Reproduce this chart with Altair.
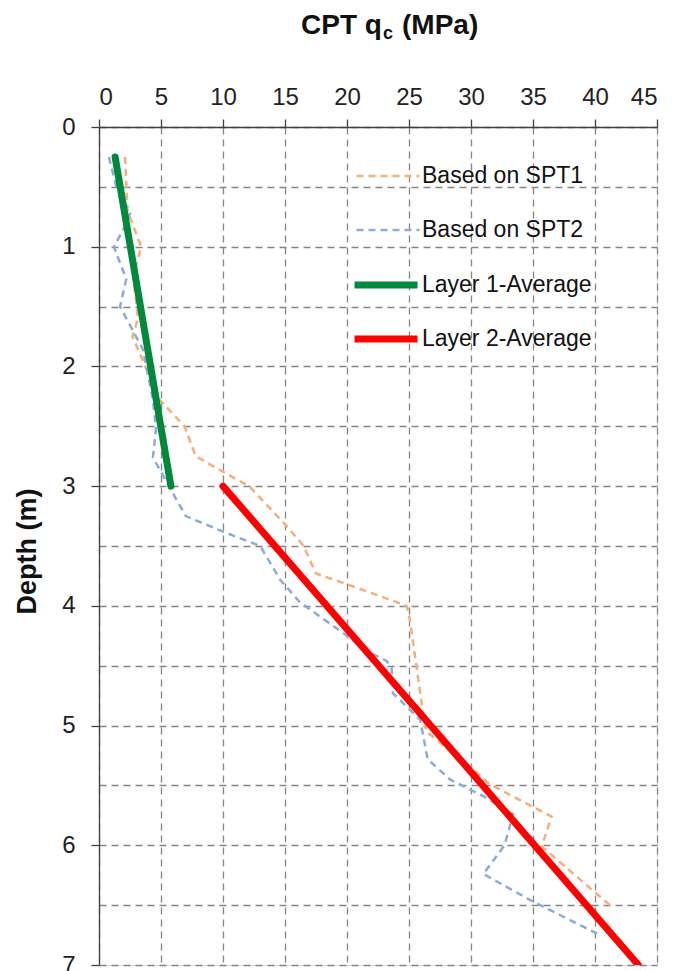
import altair as alt
import pandas as pd

# ---- data ----
spt1_q = [2.1, 2.3, 3.4, 2.75, 3.15, 2.7, 4.9, 6.9, 7.8, 10.0, 12.1, 15.1, 16.5, 17.5, 20.0,
          22.7, 24.8, 25.0, 26.1, 26.4, 29.9, 31.5, 36.5, 35.7, 41.2]
spt1_d = [0.25, 0.7, 1.0, 1.25, 1.6, 1.75, 2.28, 2.5, 2.75, 2.88, 3.0, 3.33, 3.5, 3.73, 3.82,
          3.92, 4.0, 4.07, 4.87, 5.05, 5.34, 5.49, 5.76, 6.01, 6.5]

spt2_q = [0.8, 1.4, 2.5, 1.95, 1.2, 2.2, 1.7, 3.55, 4.35, 4.6, 4.35, 5.8, 7.0, 10.0, 13.0,
          14.6, 16.2, 20.0, 21.8, 23.2, 23.6, 23.7, 25.9, 26.1, 26.5, 28.3, 31.0, 33.4, 32.7,
          31.0, 35.0, 40.4]
spt2_d = [0.25, 0.5, 0.72, 0.86, 1.0, 1.27, 1.5, 1.86, 2.28, 2.52, 2.76, 3.03, 3.25, 3.38, 3.5,
          3.78, 3.97, 4.25, 4.39, 4.46, 4.52, 4.73, 4.95, 5.06, 5.28, 5.45, 5.59, 5.74, 6.0,
          6.24, 6.47, 6.75]

layer1_q = [1.3, 5.8]
layer1_d = [0.25, 3.0]
layer2_q = [10.0, 43.5]
layer2_d = [3.0, 7.0]

series_names = ["Based on SPT1", "Based on SPT2", "Layer 1-Average", "Layer 2-Average"]
series_colors = ["#F8AD7A", "#8EA9DB", "#00893D", "#FF0000"]

x_ticks = [0, 5, 10, 15, 20, 25, 30, 35, 40, 45]
y_ticks = [0, 0.5, 1, 1.5, 2, 2.5, 3, 3.5, 4, 4.5, 5, 5.5, 6, 6.5, 7]

FONT = "Liberation Sans"


def frame(qs, ds, name):
    return pd.DataFrame({"q": qs, "depth": ds, "idx": list(range(len(qs))), "series": name})


xenc = alt.X("q:Q", scale=alt.Scale(domain=[0, 45], nice=False, zero=False),
             axis=alt.Axis(orient="top", values=x_ticks, title=None, labelFontSize=24,
                           labelFont=FONT, labelColor="#222222", labelPadding=10,
                           tickSize=8, tickColor="#404040", tickWidth=1.3,
                           domainColor="#404040", domainWidth=1.3,
                           grid=True, gridColor="#858585", gridDash=[7, 5], gridWidth=1.3))
yenc = alt.Y("depth:Q", scale=alt.Scale(domain=[0, 7], reverse=True, nice=False, zero=False),
             axis=alt.Axis(orient="left", values=y_ticks,
                           labelExpr="datum.value % 1 === 0 ? format(datum.value, 'd') : ''",
                           labelFontSize=24, labelFont=FONT, labelColor="#222222",
                           labelPadding=16, tickSize=8, tickColor="#404040", tickWidth=1.3,
                           tickOpacity={"condition": {"test": "datum.value % 1 === 0", "value": 1},
                                        "value": 0},
                           domainColor="#404040", domainWidth=1.3,
                           grid=True, gridColor="#858585", gridDash=[7, 5], gridWidth=1.3,
                           title="Depth (m)", titleFont=FONT, titleFontSize=27,
                           titleFontWeight="bold", titleColor="#111111", titleAngle=270,
                           titleX=-72, titleY=424, titleAlign="center",
                           titleBaseline="middle"))


def series_layer(qs, ds, i, dash, width, lx, ly):
    name = series_names[i]
    mark_kwargs = dict(strokeWidth=width, clip=True)
    if dash:
        mark_kwargs["strokeDash"] = dash
    else:
        mark_kwargs["strokeCap"] = "round"
    legend = alt.Legend(orient="none", legendX=lx, legendY=ly, title=None,
                        symbolType="stroke", symbolSize=3969, symbolStrokeWidth=width,
                        symbolDash=dash if dash else [1, 0], labelFontSize=23,
                        labelFont=FONT, labelColor="#111111", labelOffset=1, labelLimit=400,
                        padding=0)
    return alt.Chart(frame(qs, ds, name)).mark_line(**mark_kwargs).encode(
        x=xenc, y=yenc, order="idx:Q",
        color=alt.Color("series:N", scale=alt.Scale(domain=[name], range=[series_colors[i]]),
                        legend=legend))


l_spt1 = series_layer(spt1_q, spt1_d, 0, [7, 5], 2.5, 256, 16)
l_spt2 = series_layer(spt2_q, spt2_d, 1, [7, 5], 2.5, 256, 70)
l_lay1 = series_layer(layer1_q, layer1_d, 2, None, 7, 252, 123)
l_lay2 = series_layer(layer2_q, layer2_d, 3, None, 7, 252, 177)

dummy = pd.DataFrame({"k": [0]})
t1 = alt.Chart(dummy).mark_text(text="CPT q", font=FONT, fontSize=28, fontWeight="bold",
                                align="left", baseline="alphabetic", color="#111111").encode(
    x=alt.value(202), y=alt.value(-93))
t2 = alt.Chart(dummy).mark_text(text="c", font=FONT, fontSize=18, fontWeight="bold",
                                align="left", baseline="alphabetic", color="#111111").encode(
    x=alt.value(284), y=alt.value(-88))
t3 = alt.Chart(dummy).mark_text(text="(MPa)", font=FONT, fontSize=28, fontWeight="bold",
                                align="left", baseline="alphabetic", color="#111111").encode(
    x=alt.value(303), y=alt.value(-93))

chart = alt.layer(l_spt1, l_spt2, l_lay1, l_lay2, t1, t2, t3).resolve_scale(
    color="independent").resolve_legend(color="independent").properties(
    width=558, height=838, autosize=alt.AutoSizeParams(type="none"),
    padding={"left": 91, "top": 119, "right": 8, "bottom": 30}
).configure_view(stroke="#808080", strokeWidth=1.3).configure(background="white")

chart.save("out.html", embed_options={"renderer": "svg", "actions": False})
